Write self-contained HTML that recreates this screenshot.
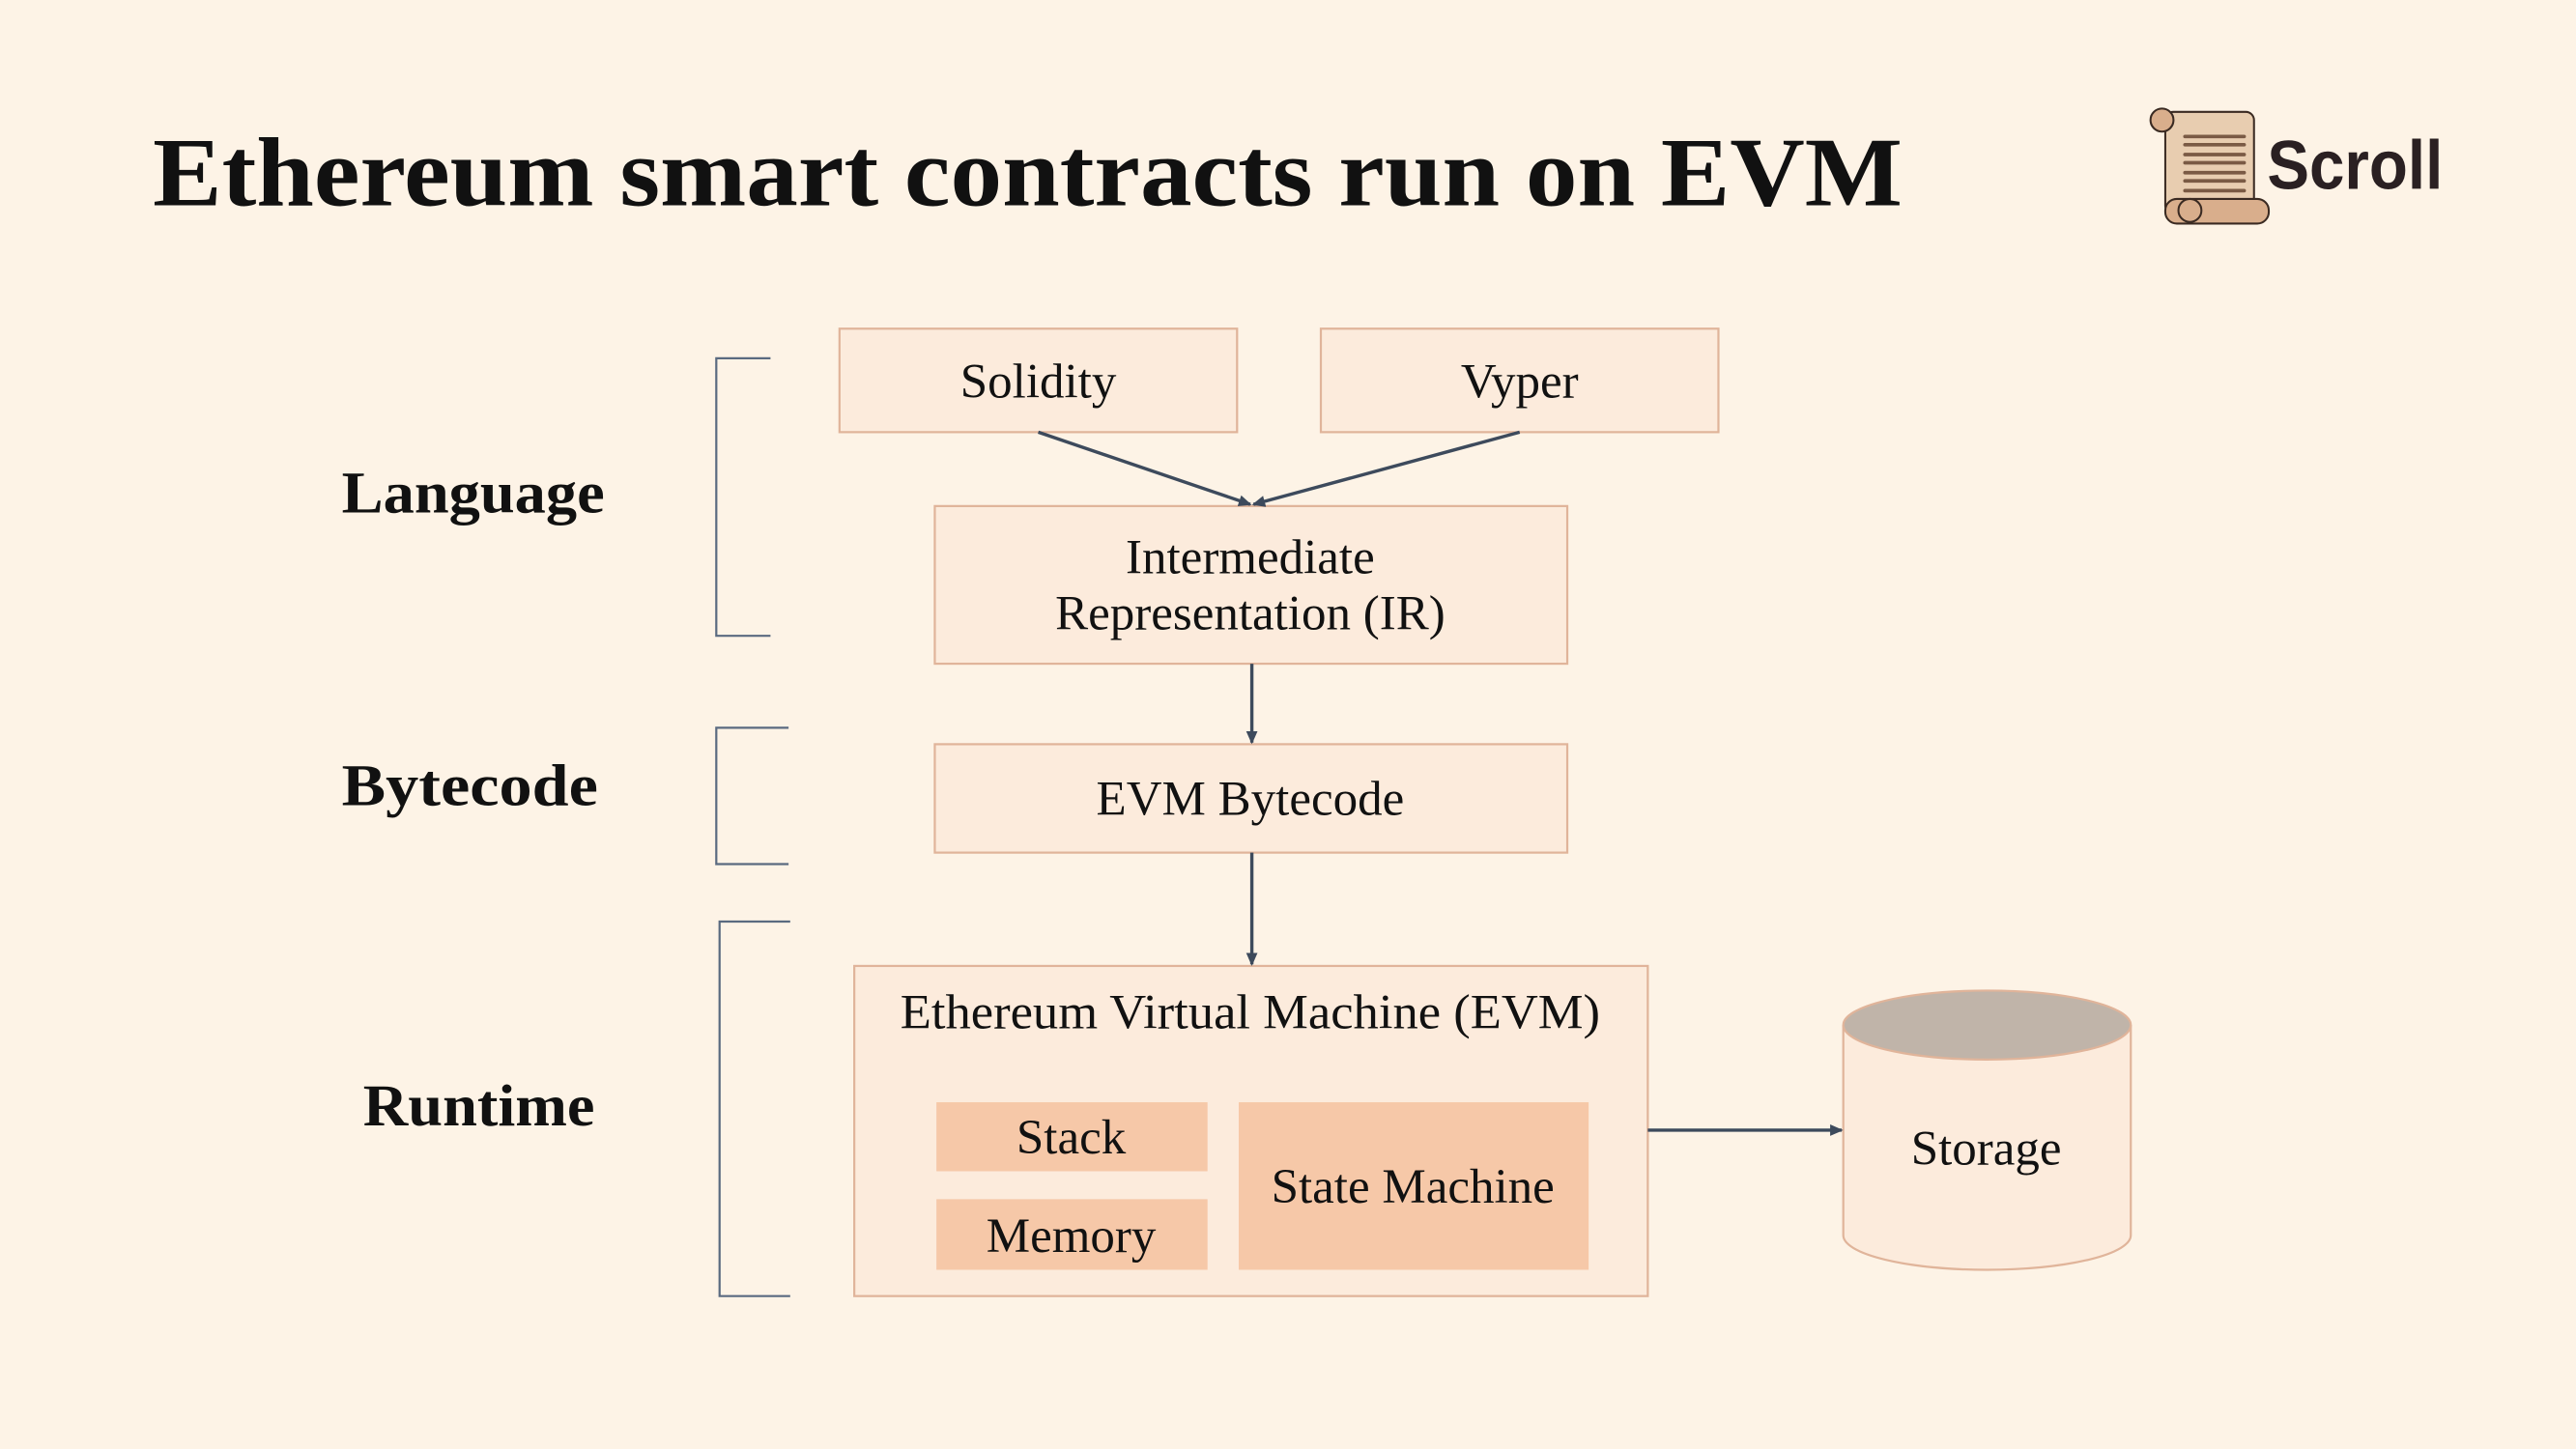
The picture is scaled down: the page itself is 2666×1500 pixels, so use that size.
<!DOCTYPE html>
<html><head><meta charset="utf-8"><style>
html,body{margin:0;padding:0;background:#fdf3e6;}
svg{display:block}
text{font-family:"Liberation Serif",serif;fill:#111;}
</style></head><body>
<svg width="2666" height="1500" viewBox="0 0 1568 882" xmlns="http://www.w3.org/2000/svg">
<defs><marker id="a" markerWidth="8" markerHeight="8" refX="7" refY="4" orient="auto" markerUnits="userSpaceOnUse"><path d="M0,0.5 L8,4 L0,7.5 z" fill="#3d4a5c"/></marker></defs>
<rect width="1568" height="882" fill="#fdf3e6"/>
<text x="93" y="125" font-size="60" font-weight="bold" textLength="1065" lengthAdjust="spacingAndGlyphs">Ethereum smart contracts run on EVM</text>
<!-- logo -->
<g stroke="#3a2a22" stroke-width="1.2">
<rect x="1318" y="68" width="54" height="62" rx="5" fill="#e8cdb0"/>
<circle cx="1316" cy="73" r="7" fill="#d9ae8c"/>
<rect x="1318" y="121" width="63" height="15" rx="7" fill="#d9ae8c"/>
<circle cx="1333" cy="128" r="7" fill="#d9ae8c"/>
</g>
<g stroke="#7a5a44" stroke-width="2.2" stroke-linecap="round">
<line x1="1330" y1="83" x2="1366" y2="83"/><line x1="1330" y1="94" x2="1366" y2="94"/><line x1="1330" y1="105" x2="1366" y2="105"/><line x1="1330" y1="116" x2="1366" y2="116"/>
<line x1="1330" y1="88" x2="1366" y2="88"/><line x1="1330" y1="99" x2="1366" y2="99"/><line x1="1330" y1="110" x2="1366" y2="110"/>
</g>
<text x="1380" y="115" font-size="42" font-weight="bold" style="font-family:'Liberation Sans',sans-serif;fill:#2a2022" textLength="107" lengthAdjust="spacingAndGlyphs">Scroll</text>
<!-- labels -->
<text x="208" y="312" font-size="36" font-weight="bold" textLength="160" lengthAdjust="spacingAndGlyphs">Language</text>
<text x="208" y="490" font-size="36" font-weight="bold" textLength="156" lengthAdjust="spacingAndGlyphs">Bytecode</text>
<text x="221" y="685" font-size="36" font-weight="bold" textLength="141" lengthAdjust="spacingAndGlyphs">Runtime</text>
<!-- brackets -->
<g fill="none" stroke="#5a6a80" stroke-width="1.3">
<path d="M469,218 H436 V387 H469"/>
<path d="M480,443 H436 V526 H480"/>
<path d="M481,561 H438 V789 H481"/>
</g>
<!-- boxes -->
<g fill="#fcebdc" stroke="#e0b49a" stroke-width="1.3">
<rect x="511" y="200" width="242" height="63"/>
<rect x="804" y="200" width="242" height="63"/>
<rect x="569" y="308" width="385" height="96"/>
<rect x="569" y="453" width="385" height="66"/>
<rect x="520" y="588" width="483" height="201"/>
</g>
<g fill="#f6c8a8">
<rect x="570" y="671" width="165" height="42"/>
<rect x="570" y="730" width="165" height="43"/>
<rect x="754" y="671" width="213" height="102"/>
</g>
<!-- cylinder -->
<path d="M1122,624 V752 A87.5,21 0 0 0 1297,752 V624" fill="#fcebdc" stroke="#e0b49a" stroke-width="1.3"/>
<ellipse cx="1209.5" cy="624" rx="87.5" ry="21" fill="#c0b4a9" stroke="#e0b49a" stroke-width="1.3"/>
<g font-size="30" text-anchor="middle">
<text x="632" y="242">Solidity</text>
<text x="925" y="242">Vyper</text>
<text x="761" y="349">Intermediate</text>
<text x="761" y="383">Representation (IR)</text>
<text x="761" y="496">EVM Bytecode</text>
<text x="761" y="626" textLength="426" lengthAdjust="spacingAndGlyphs">Ethereum Virtual Machine (EVM)</text>
<text x="652" y="702">Stack</text>
<text x="652" y="762">Memory</text>
<text x="860" y="732">State Machine</text>
<text x="1209" y="709">Storage</text>
</g>
<!-- arrows -->
<g stroke="#3d4a5c" stroke-width="2" fill="none" marker-end="url(#a)">
<line x1="632" y1="263" x2="761" y2="307"/>
<line x1="925" y1="263" x2="763" y2="307"/>
<line x1="762" y1="404" x2="762" y2="452"/>
<line x1="762" y1="519" x2="762" y2="587"/>
<line x1="1003" y1="688" x2="1121" y2="688"/>
</g>
</svg>
</body></html>
